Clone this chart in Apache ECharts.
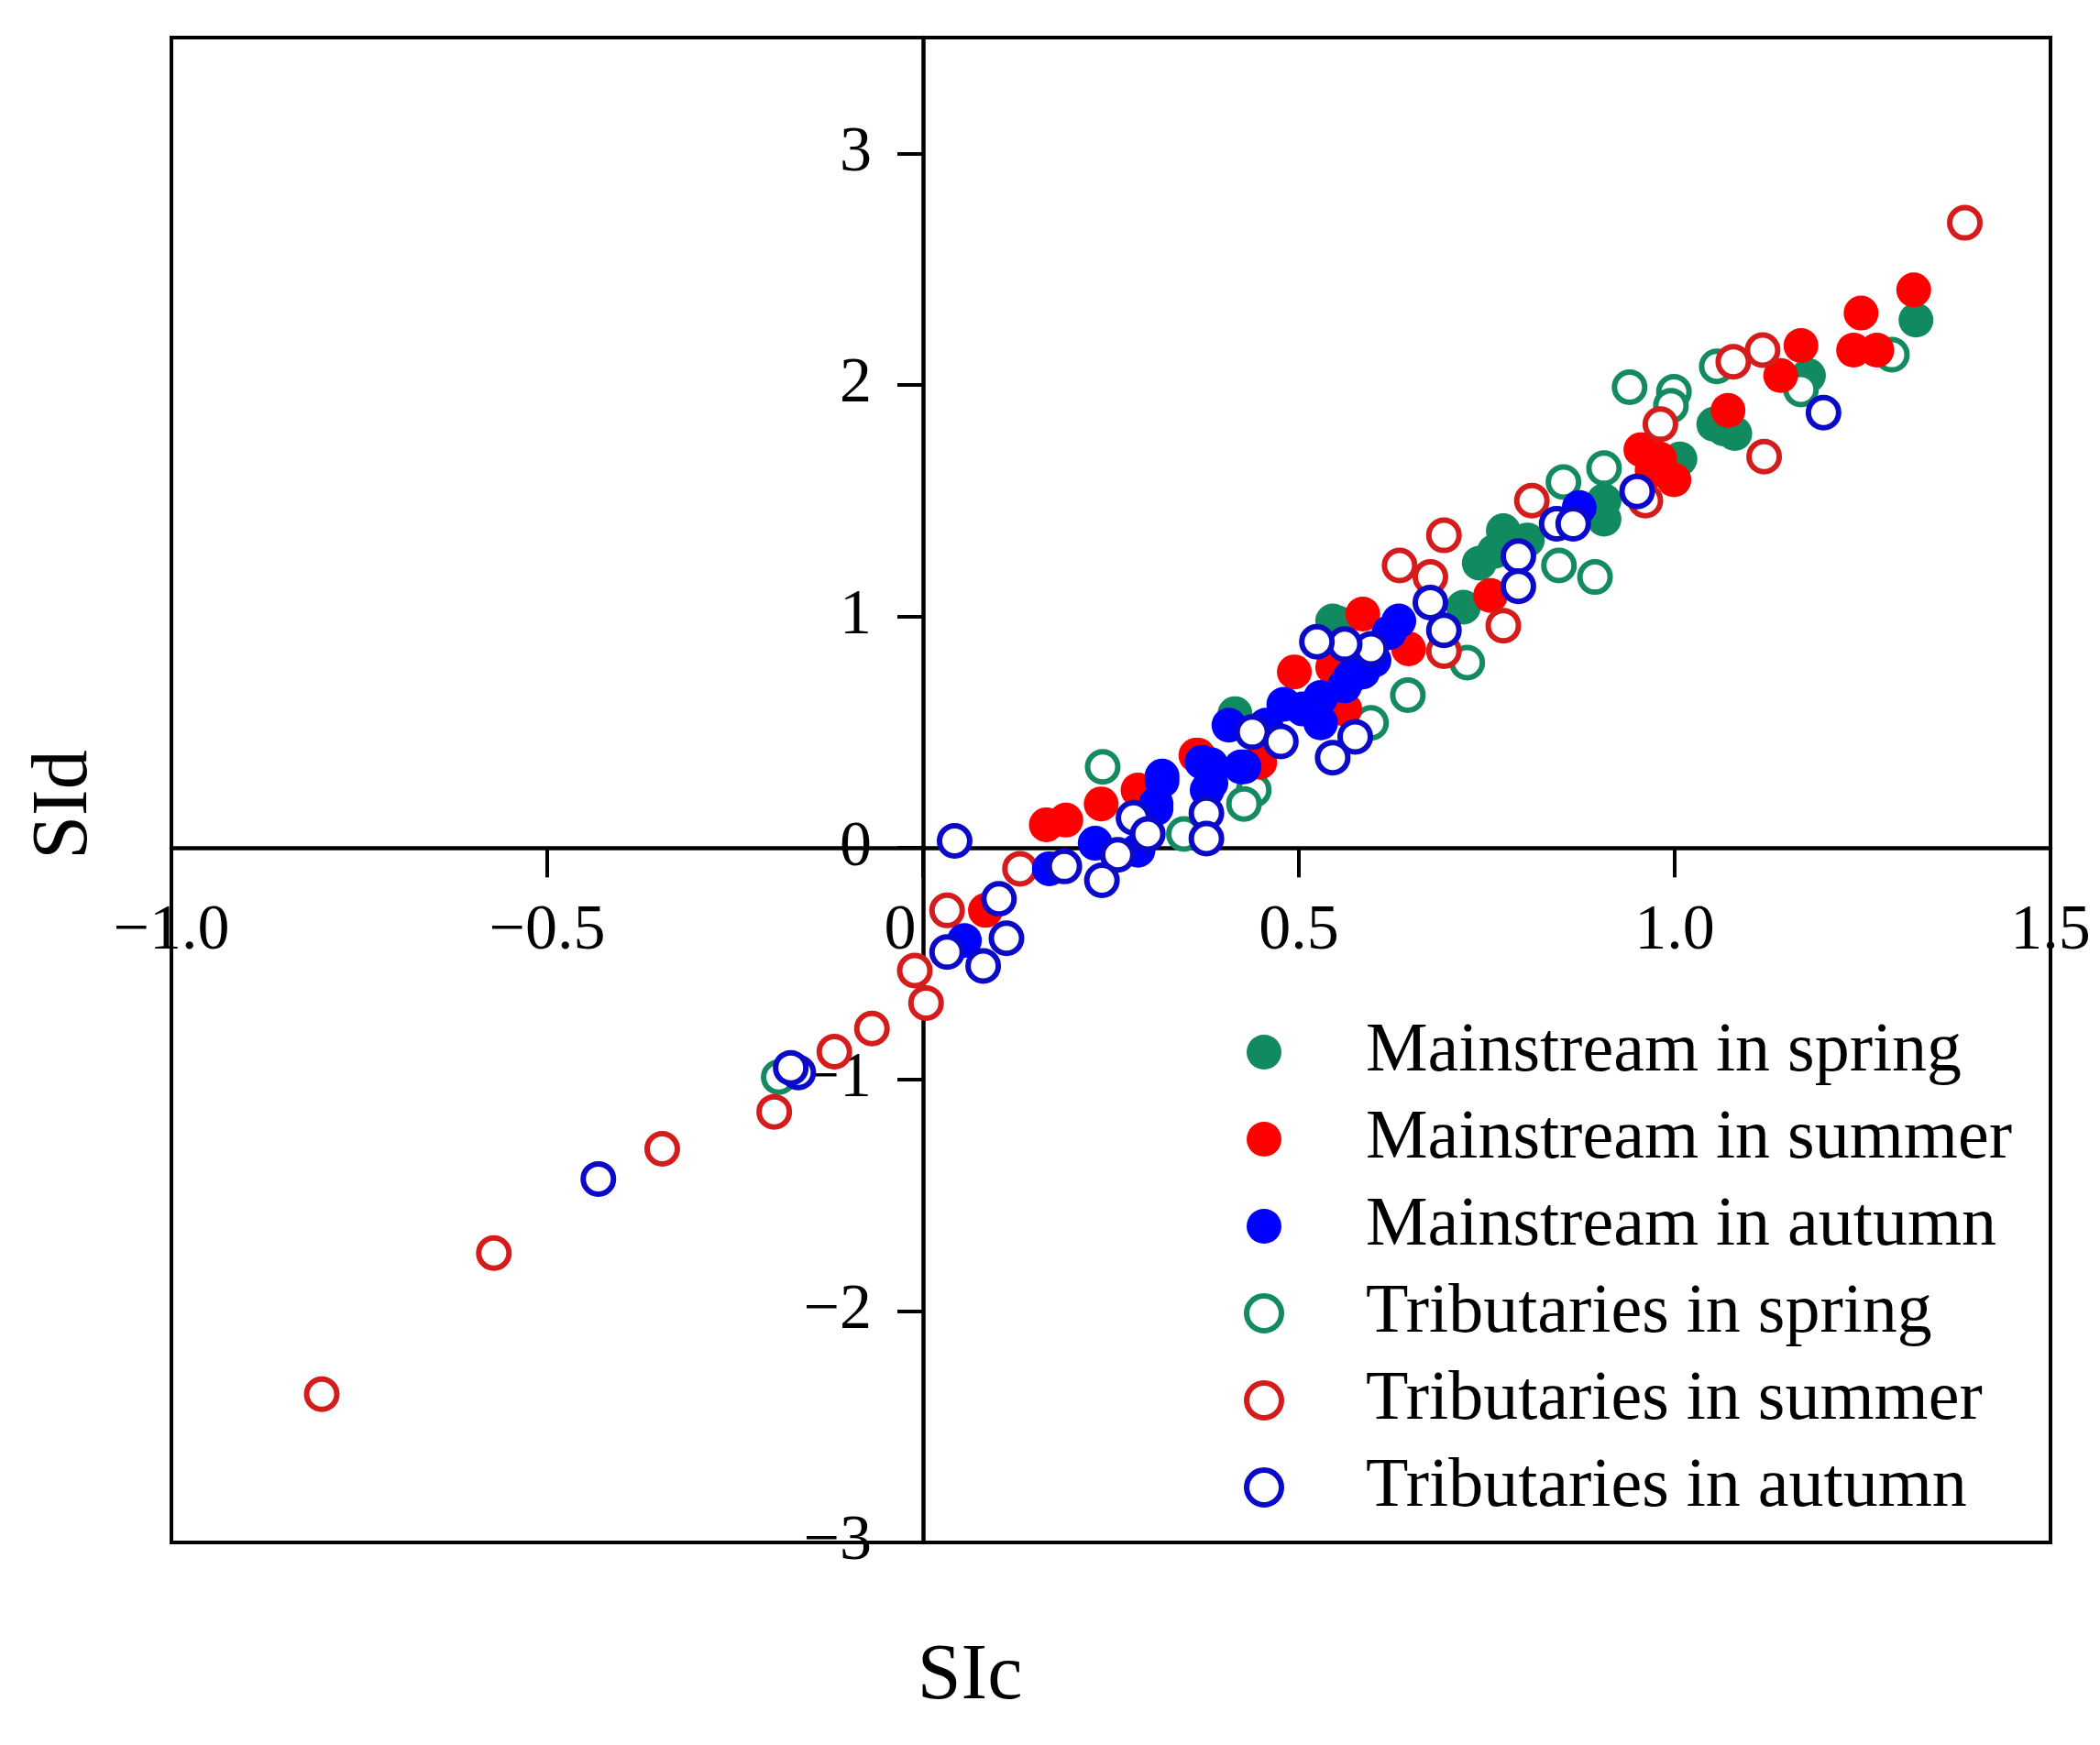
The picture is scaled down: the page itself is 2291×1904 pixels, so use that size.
<!DOCTYPE html>
<html>
<head>
<meta charset="utf-8">
<title>SIc - SId</title>
<script src="https://cdn.jsdelivr.net/npm/echarts@6/dist/echarts.min.js"></script>
<style>
    html,
    body {
        margin: 0;
        padding: 0;
        background-color: #fff;
    }

    #main {
        width: 2291px;
        height: 1904px;
    }
</style>
</head>
<body>
<!-- 图表容器 -->
<div id="main"></div>
<script>
    // 坐标轴刻度
    var xTicks = [-1.0, -0.5, 0, 0.5, 1.0, 1.5];
    var yTicks = [-3, -2, -1, 0, 1, 2, 3];
    var yMax = 3.5;

    // 图例名称
    var seriesNames = [
        'Mainstream in spring',
        'Mainstream in summer',
        'Mainstream in autumn',
        'Tributaries in spring',
        'Tributaries in summer',
        'Tributaries in autumn'
    ];

    // 干流 春季 [SIc, SId]
    var mainSpring = [
        [1.321, 2.28], [1.178, 2.04], [1.052, 1.83], [1.08, 1.79], [1.065, 1.81],
        [1.007, 1.68], [0.906, 1.50], [0.906, 1.42], [0.772, 1.37], [0.74, 1.23],
        [0.804, 1.33], [0.76, 1.28], [0.719, 1.04], [0.545, 0.98], [0.553, 0.97],
        [0.415, 0.58]
    ];
    // 干流 夏季
    var mainSummer = [
        [1.318, 2.41], [1.248, 2.31], [1.238, 2.15], [1.269, 2.15], [1.168, 2.17],
        [1.141, 2.04], [1.071, 1.89], [0.955, 1.72], [0.98, 1.68], [0.999, 1.59],
        [0.97, 1.63], [0.755, 1.09], [0.585, 1.01], [0.646, 0.86], [0.494, 0.76],
        [0.545, 0.78], [0.561, 0.60], [0.366, 0.40], [0.448, 0.37], [0.286, 0.25],
        [0.164, 0.10], [0.19, 0.12], [0.237, 0.19], [0.293, 0.23], [0.363, 0.40],
        [0.083, -0.27]
    ];
    // 干流 秋季
    var mainAutumn = [
        [0.873, 1.47], [0.633, 0.98], [0.62, 0.93], [0.60, 0.81], [0.569, 0.74],
        [0.585, 0.76], [0.561, 0.70], [0.529, 0.65], [0.505, 0.60], [0.48, 0.62],
        [0.529, 0.54], [0.407, 0.53], [0.456, 0.53], [0.383, 0.36], [0.427, 0.35],
        [0.378, 0.25], [0.371, 0.37], [0.423, 0.35], [0.383, 0.28], [0.318, 0.31],
        [0.31, 0.19], [0.318, 0.29], [0.31, 0.17], [0.286, -0.01], [0.229, 0.02],
        [0.168, -0.09], [0.055, -0.40]
    ];
    // 支流 春季
    var tribSpring = [
        [1.289, 2.13], [1.168, 1.98], [1.056, 2.08], [0.94, 1.99], [0.999, 1.97],
        [0.995, 1.91], [0.906, 1.64], [0.852, 1.58], [0.846, 1.22], [0.894, 1.17],
        [0.724, 0.80], [0.645, 0.66], [0.596, 0.54], [0.44, 0.25], [0.427, 0.19],
        [0.347, 0.06], [0.239, 0.35], [-0.192, -0.99]
    ];
    // 支流 夏季
    var tribSummer = [
        [1.386, 2.70], [1.117, 2.15], [1.078, 2.10], [0.981, 1.83], [1.119, 1.69],
        [0.961, 1.50], [0.810, 1.50], [0.693, 1.35], [0.634, 1.22], [0.675, 1.17],
        [0.772, 0.96], [0.693, 0.85], [0.129, -0.09], [0.032, -0.27], [-0.011, -0.53],
        [0.004, -0.67], [-0.068, -0.78], [-0.118, -0.88], [-0.198, -1.14], [-0.347, -1.30],
        [-0.571, -1.75], [-0.80, -2.36]
    ];
    // 支流 秋季
    var tribAutumn = [
        [1.198, 1.88], [0.950, 1.54], [0.843, 1.40], [0.865, 1.40], [0.792, 1.26],
        [0.792, 1.13], [0.675, 1.06], [0.693, 0.94], [0.596, 0.86], [0.561, 0.88],
        [0.524, 0.89], [0.575, 0.48], [0.545, 0.39], [0.438, 0.50], [0.476, 0.46],
        [0.377, 0.15], [0.377, 0.04], [0.28, 0.13], [0.299, 0.06], [0.188, -0.08],
        [0.259, -0.03], [0.238, -0.14], [0.101, -0.22], [0.111, -0.39], [0.032, -0.45],
        [0.080, -0.51], [0.042, 0.03], [-0.166, -0.97], [-0.176, -0.95], [-0.432, -1.43]
    ];

    var FONT = 'Liberation Serif';

    // 绘图区位置
    var G = { left: 187, right: 54, top: 41, bottom: 221 };
    var gridW = 2291 - G.left - G.right;
    var gridH = 1904 - G.top - G.bottom;
    var xMin = xTicks[0], xMax = xTicks[xTicks.length - 1], yMin = yTicks[0];
    // 把两条轴移到 0 处 (用 offset)
    var xAxisOffset = -gridH * (0 - yMin) / (yMax - yMin);
    var yAxisOffset = -gridW * (0 - xMin) / (xMax - xMin);
    var X_TICK_LEN = 32;

    // 负号用 −
    function fmtX(v) {
        if (v === 0) return '{z|0}';
        return (v < 0 ? '\u2212' : '') + Math.abs(v).toFixed(1);
    }

    function fmtY(v) {
        if (v === 0) return '0';
        return (v < 0 ? '\u2212' : '') + Math.abs(v);
    }

    // 实心点
    function solid(name, data, color) {
        return {
            name: name,
            type: 'scatter',
            data: data,
            symbol: 'circle',
            symbolSize: 38,
            itemStyle: { color: color, opacity: 1 }
        };
    }

    // 空心点 (白色填充)
    function hollow(name, data, color) {
        return {
            name: name,
            type: 'scatter',
            data: data,
            symbol: 'circle',
            symbolSize: 33,
            itemStyle: { color: '#fff', borderColor: color, borderWidth: 6, opacity: 1 }
        };
    }

    var chart = echarts.init(document.getElementById('main'));

    var option = {
        animation: false,
        backgroundColor: '#fff',
        grid: {
            left: G.left,
            right: G.right,
            top: G.top,
            bottom: G.bottom,
            outerBoundsMode: 'none',
            containLabel: false,
            show: true,
            borderColor: '#000',
            borderWidth: 4,
            backgroundColor: 'transparent'
        },
        legend: {
            orient: 'vertical',
            left: 1352,
            top: 1105,
            itemWidth: 212,
            itemHeight: 38,
            itemGap: 19,
            data: seriesNames,
            itemStyle: { borderWidth: 6 },
            textStyle: {
                fontFamily: FONT,
                fontSize: 76,
                lineHeight: 72,
                color: '#000'
            }
        },
        xAxis: {
            type: 'value',
            min: xMin,
            max: xMax,
            interval: 0.5,
            position: 'bottom',
            offset: xAxisOffset,
            name: 'SIc',
            nameLocation: 'middle',
            nameGap: 862,
            nameTextStyle: {
                fontFamily: FONT,
                fontSize: 86,
                color: '#000',
                padding: [0, 308, 0, 0]
            },
            axisLine: { onZero: false, lineStyle: { color: '#000', width: 4.5 } },
            axisTick: { show: true, length: X_TICK_LEN, lineStyle: { color: '#000', width: 4 } },
            axisLabel: {
                margin: 56,
                fontFamily: FONT,
                fontSize: 70,
                color: '#000',
                formatter: fmtX,
                rich: {
                    z: { fontFamily: FONT, fontSize: 70, color: '#000', padding: [0, 50, 0, 0] }
                }
            },
            splitLine: { show: false }
        },
        yAxis: {
            type: 'value',
            min: yMin,
            max: yMax,
            interval: 1,
            position: 'left',
            offset: yAxisOffset,
            name: 'SId',
            nameLocation: 'middle',
            nameGap: 893,
            nameRotate: 90,
            nameTextStyle: {
                fontFamily: FONT,
                fontSize: 86,
                color: '#000',
                padding: [0, 32, 0, 0]
            },
            axisLine: { onZero: false, lineStyle: { color: '#000', width: 4.5 } },
            axisTick: { show: true, length: 28, lineStyle: { color: '#000', width: 4 } },
            axisLabel: {
                margin: 56,
                showMaxLabel: false,
                fontFamily: FONT,
                fontSize: 70,
                color: '#000',
                formatter: fmtY
            },
            splitLine: { show: false }
        },
        // 绘制顺序: 后画的在上面
        series: [
            solid(seriesNames[0], mainSpring, '#118a5f'),
            hollow(seriesNames[3], tribSpring, '#148a60'),
            solid(seriesNames[1], mainSummer, '#ff0000'),
            hollow(seriesNames[4], tribSummer, '#d41c1c'),
            solid(seriesNames[2], mainAutumn, '#0000ff'),
            hollow(seriesNames[5], tribAutumn, '#0a0ac8')
        ]
    };

    chart.setOption(option);

    // x 轴刻度线: 用坐标系换算出 0 线上每个刻度的位置, 再画短竖线
    var tickLines = xTicks.map(function (v) {
        var p = chart.convertToPixel({ xAxisIndex: 0, yAxisIndex: 0 }, [v, 0]);
        return {
            type: 'line',
            silent: true,
            z: 100,
            shape: { x1: p[0], y1: p[1], x2: p[0], y2: p[1] + X_TICK_LEN },
            style: { stroke: '#000', lineWidth: 4 }
        };
    });
    chart.setOption({ graphic: tickLines });
</script>
</body>
</html>
